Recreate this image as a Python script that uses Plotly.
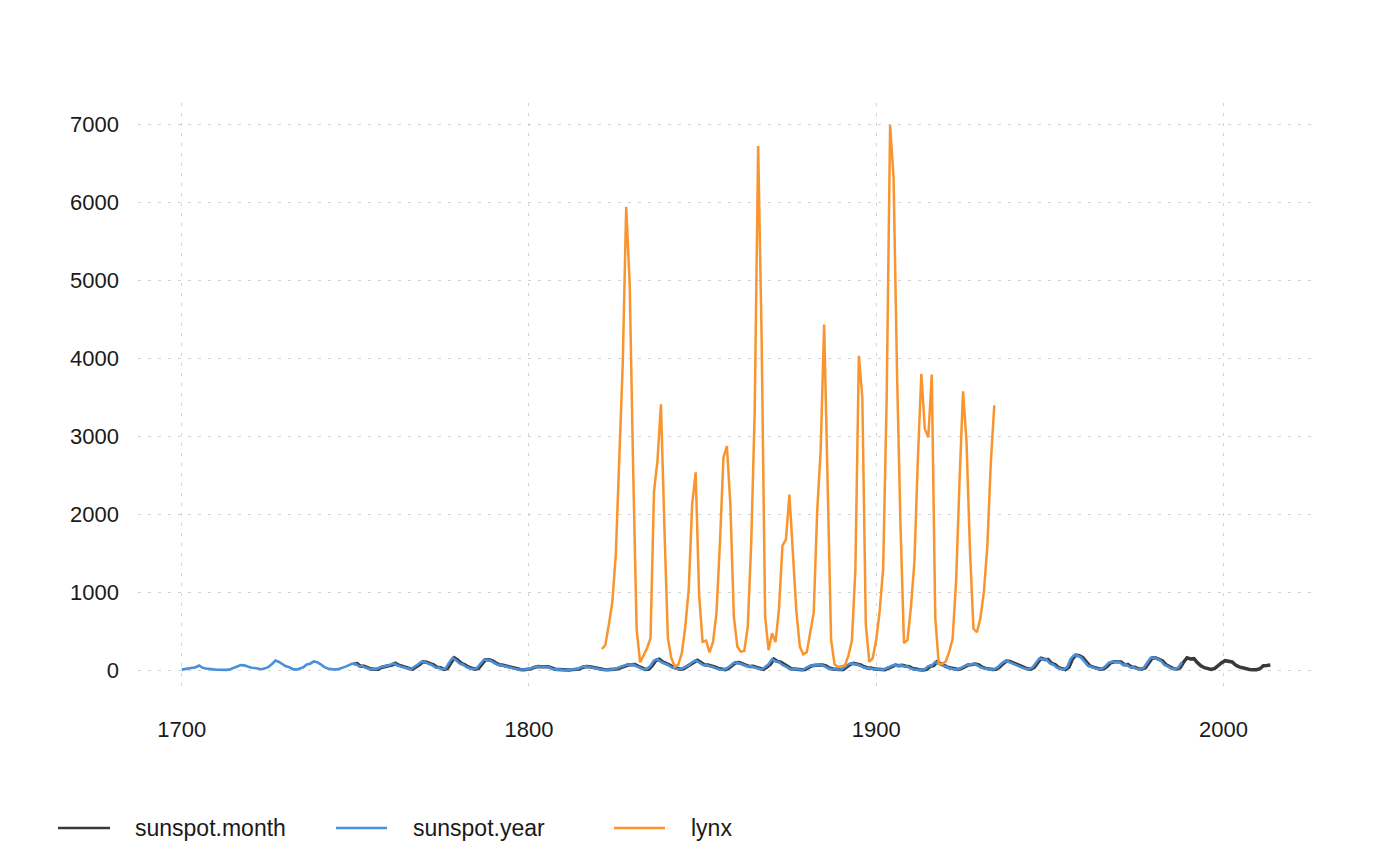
import plotly.graph_objects as go

# ---------------- data ----------------
lynx_years = list(range(1821, 1935))
lynx = [269, 321, 585, 871, 1475, 2821, 3928, 5943, 4950, 2577, 523, 98, 184, 279, 409,
        2285, 2685, 3409, 1824, 409, 151, 45, 68, 213, 546, 1033, 2129, 2536, 957, 361,
        377, 225, 360, 731, 1638, 2725, 2871, 2119, 684, 299, 236, 245, 552, 1623, 3311,
        6721, 4254, 687, 255, 473, 358, 784, 1594, 1676, 2251, 1426, 756, 299, 201, 229,
        469, 736, 2042, 2811, 4431, 2511, 389, 73, 39, 49, 59, 188, 377, 1292, 4031,
        3495, 587, 105, 153, 387, 758, 1307, 3465, 6991, 6313, 3794, 1836, 345, 382, 808,
        1388, 2713, 3800, 3091, 2985, 3790, 674, 81, 80, 108, 229, 399, 1132, 2432, 3574,
        2935, 1537, 529, 485, 662, 1000, 1590, 2657, 3396]

year_years = list(range(1700, 1989))
sunspot_year = [5, 11, 16, 23, 36, 58, 29, 20, 10, 8,
                3, 0, 0, 2, 11, 27, 47, 63, 60, 39,
                28, 26, 22, 11, 21, 40, 78, 122, 103, 73,
                47, 35, 11, 5, 16, 34, 70, 81, 111, 101,
                73, 40, 20, 16, 5, 11, 22, 40, 60, 80.9,
                83.4, 47.7, 47.8, 30.7, 12.2, 9.6, 10.2, 32.4, 47.6, 54.0,
                62.9, 85.9, 61.2, 45.1, 36.4, 20.9, 11.4, 37.8, 69.8, 106.1,
                100.8, 81.6, 66.5, 34.8, 30.6, 7.0, 19.8, 92.5, 154.4, 125.9,
                84.8, 68.1, 38.5, 22.8, 10.2, 24.1, 82.9, 132.0, 130.9, 118.1,
                89.9, 66.6, 60.0, 46.9, 41.0, 21.3, 16.0, 6.4, 4.1, 6.8,
                14.5, 34.0, 45.0, 43.1, 47.5, 42.2, 28.1, 10.1, 8.1, 2.5,
                0.0, 1.4, 5.0, 12.2, 13.9, 35.4, 45.8, 41.1, 30.1, 23.9,
                15.6, 6.6, 4.0, 1.8, 8.5, 16.6, 36.3, 49.6, 64.2, 67.0,
                70.9, 47.8, 27.5, 8.5, 13.2, 56.9, 121.5, 138.3, 103.2, 85.7,
                64.6, 36.7, 24.2, 10.7, 15.0, 40.1, 61.5, 98.5, 124.7, 96.3,
                66.6, 64.5, 54.1, 39.0, 20.6, 6.7, 4.3, 22.7, 54.8, 93.8,
                95.8, 77.2, 59.1, 44.0, 47.0, 30.5, 16.3, 7.3, 37.6, 74.0,
                139.0, 111.2, 101.6, 66.2, 44.7, 17.0, 11.3, 12.4, 3.4, 6.0,
                32.3, 54.3, 59.7, 63.7, 63.5, 52.2, 25.4, 13.1, 6.8, 6.3,
                7.1, 35.6, 73.0, 85.1, 78.0, 64.0, 41.8, 26.2, 26.7, 12.1,
                9.5, 2.7, 5.0, 24.4, 42.0, 63.5, 53.8, 62.0, 48.5, 43.9,
                18.6, 5.7, 3.6, 1.4, 9.6, 47.4, 57.1, 103.9, 80.6, 63.6,
                37.6, 26.1, 14.2, 5.8, 16.7, 44.3, 63.9, 69.0, 77.8, 64.9,
                35.7, 21.2, 11.1, 5.7, 8.7, 36.1, 79.7, 114.4, 109.6, 88.8,
                67.8, 47.5, 30.6, 16.3, 9.6, 33.2, 92.6, 151.6, 136.3, 134.7,
                83.9, 69.4, 31.5, 13.9, 4.4, 38.0, 141.7, 190.2, 184.8, 159.0,
                112.3, 53.9, 37.5, 27.9, 10.2, 15.1, 47.0, 93.8, 105.9, 105.5,
                104.5, 66.6, 68.9, 38.0, 34.5, 15.5, 12.6, 27.5, 92.5, 155.4,
                154.6, 140.4, 115.9, 66.6, 45.9, 17.9, 13.4, 29.4, 100.2]

# sunspot.month, read as one (mid-year) value per year, 1749-2013
month_years = [y + 0.5 for y in range(1749, 2014)]
sunspot_month = [80.9,
                 83.4, 47.7, 47.8, 30.7, 12.2, 9.6, 10.2, 32.4, 47.6, 54.0,
                 62.9, 85.9, 61.2, 45.1, 36.4, 20.9, 11.4, 37.8, 69.8, 106.1,
                 100.8, 81.6, 66.5, 34.8, 30.6, 7.0, 19.8, 92.5, 154.4, 125.9,
                 84.8, 68.1, 38.5, 22.8, 10.2, 24.1, 82.9, 132.0, 130.9, 118.1,
                 89.9, 66.6, 60.0, 46.9, 41.0, 21.3, 16.0, 6.4, 4.1, 6.8,
                 14.5, 34.0, 45.0, 43.1, 47.5, 42.2, 28.1, 10.1, 8.1, 2.5,
                 0.0, 1.4, 5.0, 12.2, 13.9, 35.4, 45.8, 41.1, 30.1, 23.9,
                 15.6, 6.6, 4.0, 1.8, 8.5, 16.6, 36.3, 49.6, 64.2, 67.0,
                 70.9, 47.8, 27.5, 8.5, 13.2, 56.9, 121.5, 138.3, 103.2, 85.7,
                 64.6, 36.7, 24.2, 10.7, 15.0, 40.1, 61.5, 98.5, 124.7, 96.3,
                 66.6, 64.5, 54.1, 39.0, 20.6, 6.7, 4.3, 22.7, 54.8, 93.8,
                 95.8, 77.2, 59.1, 44.0, 47.0, 30.5, 16.3, 7.3, 37.6, 74.0,
                 139.0, 111.2, 101.6, 66.2, 44.7, 17.0, 11.3, 12.4, 3.4, 6.0,
                 32.3, 54.3, 59.7, 63.7, 63.5, 52.2, 25.4, 13.1, 6.8, 6.3,
                 7.1, 35.6, 73.0, 85.1, 78.0, 64.0, 41.8, 26.2, 26.7, 12.1,
                 9.5, 2.7, 5.0, 24.4, 42.0, 63.5, 53.8, 62.0, 48.5, 43.9,
                 18.6, 5.7, 3.6, 1.4, 9.6, 47.4, 57.1, 103.9, 80.6, 63.6,
                 37.6, 26.1, 14.2, 5.8, 16.7, 44.3, 63.9, 69.0, 77.8, 64.9,
                 35.7, 21.2, 11.1, 5.7, 8.7, 36.1, 79.7, 114.4, 109.6, 88.8,
                 67.8, 47.5, 30.6, 16.3, 9.6, 33.2, 92.6, 151.6, 136.3, 134.7,
                 83.9, 69.4, 31.5, 13.9, 4.4, 38.0, 141.7, 190.2, 184.8, 159.0,
                 112.3, 53.9, 37.5, 27.9, 10.2, 15.1, 47.0, 93.8, 105.9, 105.5,
                 104.5, 66.6, 68.9, 38.0, 34.5, 15.5, 12.6, 27.5, 92.5, 155.4,
                 154.6, 140.4, 115.9, 66.6, 45.9, 17.9, 13.4, 29.4, 100.2, 157.6,
                 142.6, 145.7, 94.3, 54.6, 29.9, 17.5, 8.6, 21.5, 64.3, 93.3,
                 119.6, 111.0, 104.0, 63.7, 40.4, 29.8, 15.2, 7.5, 2.9, 3.1,
                 16.5, 55.7, 57.6, 64.7]

series_names = ["sunspot.month", "sunspot.year", "lynx"]
series_colors = ["#3a3a3a", "#4a90d9", "#f8952f"]
x_ticks = [1700, 1800, 1900, 2000]
y_ticks = [0, 1000, 2000, 3000, 4000, 5000, 6000, 7000]

# ---------------- figure ----------------
FONT = "Liberation Sans, Arial, Helvetica, sans-serif"
fig = go.Figure()
fig.add_trace(go.Scatter(x=month_years, y=sunspot_month, mode="lines", name=series_names[0],
                         line=dict(color=series_colors[0], width=3.5), showlegend=False))
fig.add_trace(go.Scatter(x=year_years, y=sunspot_year, mode="lines", name=series_names[1],
                         line=dict(color=series_colors[1], width=2.6), showlegend=False))
fig.add_trace(go.Scatter(x=lynx_years, y=lynx, mode="lines", name=series_names[2],
                         line=dict(color=series_colors[2], width=2.5), showlegend=False))

# page has an 8px body offset; figure coordinates are page coordinates minus 8
OFF = 8
W, H = 1400, 865
ML, MR, MT, MB = 138 - OFF, W - (1312 - OFF), 103 - OFF, H - (692 - OFF)
pw, ph = W - ML - MR, H - MT - MB

grid = dict(showgrid=True, gridcolor="#d2d2d2", gridwidth=1, griddash="3px,7px",
            zeroline=False, showline=False, ticks="",
            tickfont=dict(family=FONT, size=22, color="#1a1a1a"))

fig.update_layout(
    width=W, height=H,
    margin=dict(l=ML, r=MR, t=MT, b=MB),
    paper_bgcolor="white", plot_bgcolor="white",
    xaxis=dict(range=[1687.4, 2025.5], tickvals=x_ticks, ticklabelstandoff=22, **grid),
    yaxis=dict(range=[-282, 7273], tickvals=y_ticks, ticklabelstandoff=18, **grid),
    showlegend=False,
)

# custom legend (bottom-left, long line keys like the reference); page px
legend_items = [(58, 110, 133), (336, 387, 411), (614, 665, 689)]
legend_y = 828
for (x0, x1, xt), name, col in zip(legend_items, series_names, series_colors):
    yp = (H - MB - (legend_y - OFF)) / ph
    fig.add_shape(type="line", xref="paper", yref="paper",
                  x0=(x0 - OFF - ML) / pw, x1=(x1 - OFF - ML) / pw,
                  y0=yp, y1=yp, line=dict(color=col, width=2.5))
    fig.add_annotation(text=name, xref="paper", yref="paper",
                       x=(xt - OFF - ML) / pw, y=yp,
                       xanchor="left", yanchor="middle", showarrow=False,
                       font=dict(family=FONT, size=23, color="#1a1a1a"))

fig.write_html("out.html")
